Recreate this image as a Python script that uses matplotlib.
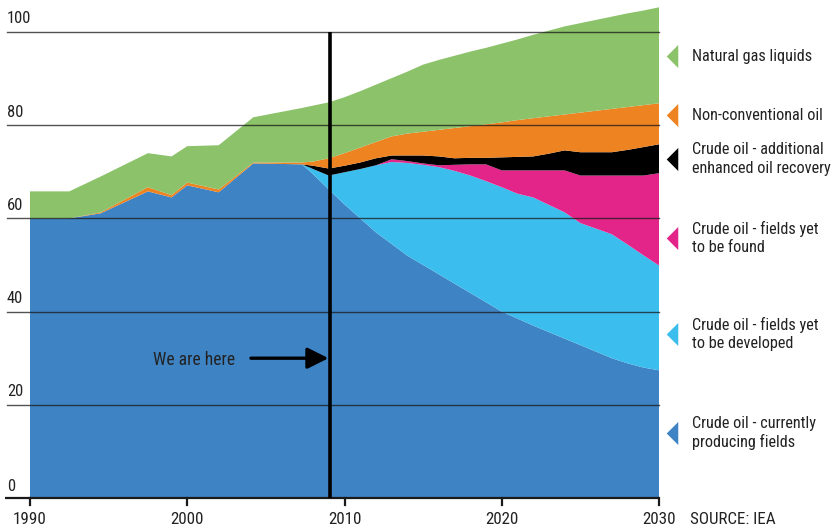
import matplotlib
matplotlib.use("Agg")
import matplotlib.pyplot as plt
from matplotlib import font_manager

# pick the narrowest sans family that is installed
candidates = ['Roboto Condensed', 'Liberation Sans Narrow', 'Open Sans Condensed',
              'Roboto', 'Liberation Sans']
chosen = 'DejaVu Sans'
for fam in candidates:
    try:
        font_manager.findfont(fam, fallback_to_default=False)
        chosen = fam
        break
    except Exception:
        continue
plt.rcParams['font.family'] = [chosen, 'DejaVu Sans']

# World oil production by source, mb/d
years = [1990, 1992.5, 1994.5, 1997.5, 1999, 2000, 2002, 2004.2, 2007.3,
         2008, 2009, 2010, 2011, 2012, 2013, 2014, 2015, 2016, 2017, 2018,
         2019, 2020, 2021, 2022, 2023, 2024, 2025, 2026, 2027, 2028, 2029, 2030]

producing = [60.0, 60.0, 61.1, 65.8, 64.5, 67.1, 65.6, 71.8, 71.6,
             69.5, 66.2, 63.0, 60.0, 57.0, 54.5, 52.0, 50.0, 48.0, 46.0, 44.0,
             42.0, 40.0, 38.5, 37.0, 35.6, 34.2, 32.8, 31.4, 30.0, 28.9, 28.0, 27.4]
developed = [0, 0, 0, 0, 0, 0, 0, 0, 0,
             1.1, 3.0, 6.9, 10.6, 14.4, 17.6, 19.9, 21.5, 23.0, 24.2, 25.2,
             26.0, 26.7, 26.8, 27.5, 27.3, 27.1, 26.2, 26.4, 26.6, 25.5, 24.1, 22.5]
found = [0, 0, 0, 0, 0, 0, 0, 0, 0,
         0, 0, 0, 0, 0, 0.6, 0.4, 0.3, 0.4, 1.3, 2.4,
         3.6, 3.6, 5.0, 5.8, 7.4, 9.0, 10.2, 11.4, 12.6, 14.8, 17.1, 19.8]
eor = [0, 0, 0, 0, 0, 0, 0, 0, 0,
       0.7, 1.5, 1.4, 1.4, 1.5, 0.8, 1.2, 1.7, 1.9, 1.4, 1.4,
       1.4, 2.8, 2.9, 3.0, 3.6, 4.3, 5.0, 5.0, 5.0, 5.5, 6.1, 6.2]
nonconventional = [0, 0, 0.2, 0.9, 0.5, 0.6, 0.6, 0.2, 0.4,
                   0.9, 2.2, 2.7, 3.2, 3.5, 4.1, 4.7, 5.1, 5.7, 6.5, 6.8,
                   7.2, 7.5, 7.9, 8.2, 8.0, 7.7, 8.5, 8.9, 9.3, 9.2, 9.0, 8.8]
ngl = [5.8, 5.8, 7.7, 7.3, 8.3, 7.8, 9.5, 9.7, 11.7,
       12.0, 12.0, 12.0, 12.1, 12.3, 12.5, 13.3, 14.4, 15.0, 15.5, 16.0,
       16.4, 16.9, 17.3, 17.9, 18.4, 18.9, 19.2, 19.5, 19.8, 20.1, 20.3, 20.6]

series_colors = ['#3E83C4', '#3BBDEE', '#E3258A', '#000000', '#EE8321', '#8BC26A']
legend_labels = ['Crude oil - currently\nproducing fields',
                 'Crude oil - fields yet\nto be developed',
                 'Crude oil - fields yet\nto be found',
                 'Crude oil - additional\nenhanced oil recovery',
                 'Non-conventional oil',
                 'Natural gas liquids']
legend_y_px = [433, 334, 238, 159, 115, 56]

grid_values = [20, 40, 60, 80, 100]
tick_years = [1990, 2000, 2010, 2020, 2030]
now_year = 2009.1

W, H = 839, 531
fig = plt.figure(figsize=(W / 100, H / 100), dpi=100)
ax = fig.add_axes([30 / W, 33 / H, 629 / W, 498 / H])
ax.set_xlim(1990, 2030)
ax.set_ylim(0, 498 / 4.66)
ax.axis('off')

ax.stackplot(years, producing, developed, found, eor, nonconventional, ngl,
             colors=series_colors, linewidth=0, zorder=1)

text_color = '#222222'
x_left = 1990 + (7 - 30) / 15.725

# size the legend type so its longest line spans about 140 px
renderer = fig.canvas.get_renderer()
probe = fig.text(0, 0, 'enhanced oil recovery', fontsize=13)
probe_w = probe.get_window_extent(renderer).width
probe.remove()
base = min(13.0, 13.0 * 140.0 / probe_w)
y_label_size = base * 13.2 / 13
x_label_size = base * 13.6 / 13

# horizontal rules with value labels sitting on top of them
for v in grid_values:
    ax.plot([x_left, 2030], [v, v], color='#1a1a1a', lw=1.0, alpha=0.75,
            clip_on=False, zorder=3)
    ax.text(x_left, v + 1.2, str(v), ha='left', va='bottom',
            fontsize=y_label_size, color=text_color)
ax.text(x_left, 0.9, '0', ha='left', va='bottom', fontsize=y_label_size,
        color=text_color)

# baseline and year ticks
ax.plot([1990 + (5 - 30) / 15.725, 2030], [0, 0], color='#1a1a1a', lw=1.6,
        clip_on=False, zorder=4, solid_capstyle='butt')
for yr in tick_years:
    ax.plot([yr, yr], [0, -1.4], color='#1a1a1a', lw=1.6, clip_on=False, zorder=4)
    ax.text(yr, -4.6, str(yr), ha='center', va='center',
            fontsize=x_label_size, color=text_color)
ax.text(2030 + 31 / 15.725, -4.6, 'SOURCE: IEA', ha='left', va='center',
        fontsize=x_label_size, color=text_color)

# current-year marker
ax.plot([now_year, now_year], [0, 100], color='black', lw=2.6, zorder=5,
        solid_capstyle='butt')
ax.annotate('', xy=(now_year - 0.12, 30), xytext=(2004.05, 30),
            arrowprops=dict(arrowstyle='-|>', lw=2.4, color='black',
                            mutation_scale=32, shrinkA=0, shrinkB=0),
            zorder=6)
ax.text(1997.8, 29.6, 'We are here', ha='left', va='center',
        fontsize=base * 14 / 13, color=text_color)

# right-hand legend with pointers
tri = [(-0.25, 0), (0.25, 0.5), (0.25, -0.5)]
for col, lab, py in zip(series_colors, legend_labels, legend_y_px):
    fy = 1 - py / H
    ax.plot([672 / W], [fy], marker=tri, markersize=16.6, color=col,
            markeredgewidth=0, transform=fig.transFigure, clip_on=False)
    fig.text(692 / W, fy, lab, ha='left', va='center', fontsize=base,
             color=text_color, linespacing=1.25)

fig.savefig('out.png', dpi=100)
